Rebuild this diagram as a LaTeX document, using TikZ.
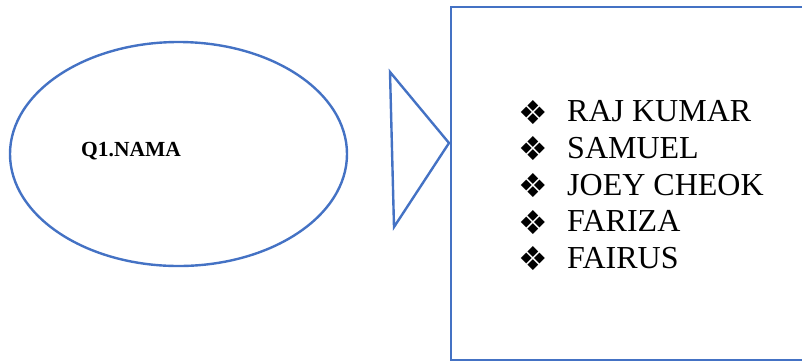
\documentclass[tikz,border=0pt]{standalone}
\usepackage{fontspec}
\setmainfont{Liberation Serif}
\newfontfamily\symfont{DejaVu Sans}
\usetikzlibrary{shapes.geometric}
\definecolor{shapeblue}{HTML}{4472C4}
\begin{document}
\begin{tikzpicture}[x=1pt,y=-1pt,
  outline/.style={draw=shapeblue, line width=2.4pt},
  listtext/.style={anchor=base west, inner sep=0pt, font=\fontsize{32}{36}\selectfont},
  bulletmark/.style={anchor=center, inner sep=0pt, font=\symfont\fontsize{33}{36}\selectfont}]
\useasboundingbox (0,0) rectangle (802,360);
% question bubble
\node[outline, ellipse, minimum width=337pt, minimum height=224pt, inner sep=0pt] (q1) at (178.5,154) {};
\node[anchor=base west, inner sep=0pt, font=\fontsize{21.5}{25}\selectfont\bfseries] (q1label) at (81,156) {Q1.NAMA};
% pointer triangle
\coordinate (t1) at (390,72);
\coordinate (t2) at (449,143);
\coordinate (t3) at (394,227);
\draw[outline, line join=miter] (t1) -- (t2) -- (t3) -- cycle;
% answer box
\node[outline, rectangle, anchor=north west, minimum width=370pt, minimum height=353pt, inner sep=0pt] (answers) at (450,6) {};
% list of names
\foreach \name [count=\i] in {RAJ KUMAR, SAMUEL, JOEY CHEOK, FARIZA, FAIRUS} {
  \pgfmathsetmacro{\yb}{121.7+36.65*(\i-1)}
  \pgfmathsetmacro{\yc}{\yb-9.5}
  \node[bulletmark] (b\i) at (533,\yc) {❖};
  \node[listtext] (n\i) at (567,\yb) {\name};
}
\end{tikzpicture}
\end{document}
